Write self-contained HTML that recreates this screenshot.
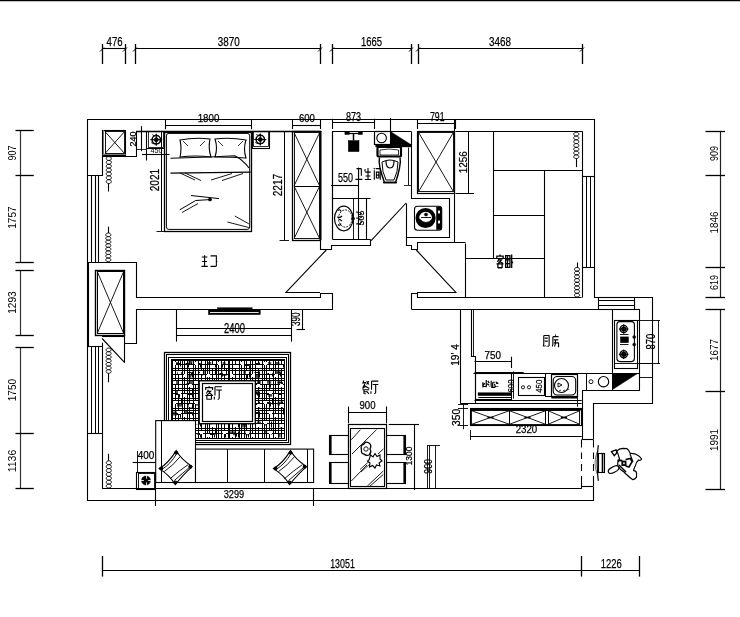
<!DOCTYPE html>
<html><head><meta charset="utf-8"><style>
html,body{margin:0;padding:0;background:#fff;width:740px;height:617px;overflow:hidden}
svg{display:block;will-change:transform}
text{font-family:"Liberation Sans",sans-serif;fill:#000}
</style></head><body>
<svg width="740" height="617" viewBox="0 0 740 617" fill="none" stroke="#000" stroke-width="1.1">
<line x1="0" y1="0.5" x2="740" y2="0.5" stroke-width="1.6"/>
<line x1="102.5" y1="48.5" x2="125.75" y2="48.5"/>
<line x1="135.75" y1="48.5" x2="320.75" y2="48.5"/>
<line x1="332.7" y1="48.5" x2="411.6" y2="48.5"/>
<line x1="418.2" y1="48.5" x2="582.5" y2="48.5"/>
<line x1="102.5" y1="44" x2="102.5" y2="64" stroke-width="1.3"/>
<line x1="100.0" y1="51.5" x2="104.0" y2="47.5" stroke-width="1.0"/>
<line x1="125.5" y1="44" x2="125.5" y2="64" stroke-width="1.3"/>
<line x1="123.0" y1="51.5" x2="127.0" y2="47.5" stroke-width="1.0"/>
<line x1="135.5" y1="44" x2="135.5" y2="64" stroke-width="1.3"/>
<line x1="133.0" y1="51.5" x2="137.0" y2="47.5" stroke-width="1.0"/>
<line x1="320.5" y1="44" x2="320.5" y2="64" stroke-width="1.3"/>
<line x1="318.0" y1="51.5" x2="322.0" y2="47.5" stroke-width="1.0"/>
<line x1="332.5" y1="44" x2="332.5" y2="64" stroke-width="1.3"/>
<line x1="330.0" y1="51.5" x2="334.0" y2="47.5" stroke-width="1.0"/>
<line x1="411.5" y1="44" x2="411.5" y2="64" stroke-width="1.3"/>
<line x1="409.0" y1="51.5" x2="413.0" y2="47.5" stroke-width="1.0"/>
<line x1="418.5" y1="44" x2="418.5" y2="64" stroke-width="1.3"/>
<line x1="416.0" y1="51.5" x2="420.0" y2="47.5" stroke-width="1.0"/>
<line x1="582.5" y1="44" x2="582.5" y2="64" stroke-width="1.3"/>
<line x1="580.0" y1="51.5" x2="584.0" y2="47.5" stroke-width="1.0"/>
<text x="114.6" y="45.85" text-anchor="middle" textLength="16" lengthAdjust="spacingAndGlyphs" font-size="13.13" stroke="#000" stroke-width="0.25">476</text>
<text x="228.75" y="45.80" text-anchor="middle" textLength="22" lengthAdjust="spacingAndGlyphs" font-size="12.99" stroke="#000" stroke-width="0.25">3870</text>
<text x="371.5" y="45.80" text-anchor="middle" textLength="21" lengthAdjust="spacingAndGlyphs" font-size="12.99" stroke="#000" stroke-width="0.25">1665</text>
<text x="500" y="45.80" text-anchor="middle" textLength="22" lengthAdjust="spacingAndGlyphs" font-size="12.99" stroke="#000" stroke-width="0.25">3468</text>
<line x1="20.5" y1="130" x2="20.5" y2="262" stroke-width="1.2" stroke="#333"/>
<line x1="20.5" y1="270.5" x2="20.5" y2="335" stroke-width="1.2" stroke="#333"/>
<line x1="20.5" y1="347.5" x2="20.5" y2="488.75" stroke-width="1.2" stroke="#333"/>
<line x1="15.5" y1="130.5" x2="33.75" y2="130.5" stroke-width="1.3"/>
<line x1="15.5" y1="175.5" x2="33.75" y2="175.5" stroke-width="1.3"/>
<line x1="15.5" y1="262.5" x2="33.75" y2="262.5" stroke-width="1.3"/>
<line x1="15.5" y1="270.5" x2="33.75" y2="270.5" stroke-width="1.3"/>
<line x1="15.5" y1="335.5" x2="33.75" y2="335.5" stroke-width="1.3"/>
<line x1="15.5" y1="347.5" x2="33.75" y2="347.5" stroke-width="1.3"/>
<line x1="15.5" y1="433.5" x2="33.75" y2="433.5" stroke-width="1.3"/>
<line x1="15.5" y1="488.5" x2="33.75" y2="488.5" stroke-width="1.3"/>
<text x="12.3" y="157.00" text-anchor="middle" textLength="15" lengthAdjust="spacingAndGlyphs" font-size="11.17" transform="rotate(-90 12.3 153)" stroke="none">907</text>
<text x="12.2" y="221.50" text-anchor="middle" textLength="22.5" lengthAdjust="spacingAndGlyphs" font-size="11.17" transform="rotate(-90 12.2 217.5)" stroke="none">1757</text>
<text x="12.2" y="306.50" text-anchor="middle" textLength="22.5" lengthAdjust="spacingAndGlyphs" font-size="11.17" transform="rotate(-90 12.2 302.5)" stroke="none">1293</text>
<text x="12.2" y="394.00" text-anchor="middle" textLength="22.5" lengthAdjust="spacingAndGlyphs" font-size="11.17" transform="rotate(-90 12.2 390)" stroke="none">1750</text>
<text x="12.2" y="465.00" text-anchor="middle" textLength="22.5" lengthAdjust="spacingAndGlyphs" font-size="11.17" transform="rotate(-90 12.2 461)" stroke="none">1136</text>
<line x1="720.5" y1="131.25" x2="720.5" y2="297" stroke-width="1.2" stroke="#222"/>
<line x1="720.5" y1="309.5" x2="720.5" y2="489.5" stroke-width="1.2" stroke="#222"/>
<line x1="705.5" y1="131.5" x2="725" y2="131.5" stroke-width="1.3"/>
<line x1="705.5" y1="175.5" x2="725" y2="175.5" stroke-width="1.3"/>
<line x1="705.5" y1="267.5" x2="725" y2="267.5" stroke-width="1.3"/>
<line x1="705.5" y1="297.5" x2="725" y2="297.5" stroke-width="1.3"/>
<line x1="705.5" y1="309.5" x2="725" y2="309.5" stroke-width="1.3"/>
<line x1="705.5" y1="391.5" x2="725" y2="391.5" stroke-width="1.3"/>
<line x1="705.5" y1="489.5" x2="725" y2="489.5" stroke-width="1.3"/>
<text x="713.8" y="157.60" text-anchor="middle" textLength="15" lengthAdjust="spacingAndGlyphs" font-size="11.17" transform="rotate(-90 713.8 153.6)" stroke="none">909</text>
<text x="713.8" y="226.40" text-anchor="middle" textLength="22" lengthAdjust="spacingAndGlyphs" font-size="11.17" transform="rotate(-90 713.8 222.4)" stroke="none">1846</text>
<text x="713.8" y="286.50" text-anchor="middle" textLength="15" lengthAdjust="spacingAndGlyphs" font-size="11.17" transform="rotate(-90 713.8 282.5)" stroke="none">619</text>
<text x="713.8" y="354.00" text-anchor="middle" textLength="22" lengthAdjust="spacingAndGlyphs" font-size="11.17" transform="rotate(-90 713.8 350)" stroke="none">1677</text>
<text x="713.8" y="444.00" text-anchor="middle" textLength="22" lengthAdjust="spacingAndGlyphs" font-size="11.17" transform="rotate(-90 713.8 440)" stroke="none">1991</text>
<line x1="102.7" y1="570.5" x2="639.2" y2="570.5"/>
<line x1="102.5" y1="556" x2="102.5" y2="576.6" stroke-width="1.3"/>
<line x1="581.5" y1="556" x2="581.5" y2="576.6" stroke-width="1.3"/>
<line x1="639.5" y1="556" x2="639.5" y2="576.6" stroke-width="1.3"/>
<text x="342.5" y="567.90" text-anchor="middle" textLength="24.7" lengthAdjust="spacingAndGlyphs" font-size="13.69" stroke="#000" stroke-width="0.25">13051</text>
<text x="611.3" y="567.90" text-anchor="middle" textLength="21" lengthAdjust="spacingAndGlyphs" font-size="13.69" stroke="#000" stroke-width="0.25">1226</text>
<line x1="155.5" y1="489" x2="155.5" y2="506" stroke-width="1.1"/>
<line x1="313.5" y1="489" x2="313.5" y2="506" stroke-width="1.1"/>
<text x="234" y="498.40" text-anchor="middle" textLength="20.5" lengthAdjust="spacingAndGlyphs" font-size="11.45" stroke="#000" stroke-width="0.25">3299</text>
<path d="M593.5,439.5 L593.5,403.5 L652.5,403.5 L652.5,297.5 L594.5,297.5 L594.5,119.5 L87.5,119.5 L87.5,500.5 L593.5,500.5 L593.5,486.5"/>
<line x1="88.5" y1="262" x2="88.5" y2="346"/>
<path d="M87.5,175.5 L102.5,175.5 L102.5,156.5 L136.5,156.5 L136.5,131.5 L321.5,131.5"/>
<line x1="136.1" y1="131.5" x2="321" y2="131.5" stroke-width="1.4"/>
<line x1="91.5" y1="175" x2="91.5" y2="262"/>
<line x1="95.5" y1="175" x2="95.5" y2="262"/>
<line x1="98.5" y1="175" x2="98.5" y2="262"/>
<rect x="102.5" y="130.5" width="23.0" height="25.0" stroke-width="1.1"/>
<line x1="103.5" y1="130" x2="103.5" y2="155.3" stroke-width="1" stroke="#777"/>
<line x1="102.7" y1="154.5" x2="125.7" y2="154.5" stroke-width="1" stroke="#777"/>
<rect x="105.5" y="131.5" width="19.0" height="22.0" stroke-width="0.9"/>
<line x1="105" y1="131.6" x2="124.6" y2="153.5" stroke-width="0.9"/>
<line x1="124.6" y1="131.6" x2="105" y2="153.5" stroke-width="0.9"/>
<line x1="141.5" y1="126.2" x2="141.5" y2="151.2"/>
<line x1="137" y1="131.5" x2="146" y2="131.5" stroke-width="0.8"/>
<line x1="137" y1="149.5" x2="146" y2="149.5" stroke-width="0.8"/>
<text x="132.5" y="142.00" text-anchor="middle" textLength="15" lengthAdjust="spacingAndGlyphs" font-size="8.38" transform="rotate(-90 132.5 139)" stroke="#000" stroke-width="0.25">240</text>
<line x1="142.1" y1="154.5" x2="169.5" y2="154.5"/>
<line x1="146.5" y1="148" x2="146.5" y2="160.5"/>
<rect x="146.5" y="131.5" width="18.0" height="17.0"/>
<rect x="148.5" y="131.5" width="15.0" height="16.0" stroke-width="0.8"/>
<rect x="252.5" y="131.5" width="17.0" height="17.0"/>
<rect x="253.5" y="131.5" width="15.0" height="15.0" stroke-width="0.8"/>
<circle cx="156.3" cy="139.7" r="4.2" stroke-width="1.5"/>
<circle cx="156.3" cy="139.7" r="2.0" stroke-width="0.8" fill="#000"/>
<line x1="150.3" y1="139.7" x2="162.3" y2="139.7" stroke-width="1.1"/>
<line x1="156.3" y1="133.7" x2="156.3" y2="145.7" stroke-width="1.1"/>
<path d="M152.3,134.7 q2,2 4,0 M151.3,142.7 q3,2 5,1 M158.3,143.7 q2,-1 3,-3" stroke-width="0.9"/>
<circle cx="260.3" cy="139.5" r="4.2" stroke-width="1.5"/>
<circle cx="260.3" cy="139.5" r="2.0" stroke-width="0.8" fill="#000"/>
<line x1="254.3" y1="139.5" x2="266.3" y2="139.5" stroke-width="1.1"/>
<line x1="260.3" y1="133.5" x2="260.3" y2="145.5" stroke-width="1.1"/>
<path d="M256.3,134.5 q2,2 4,0 M255.3,142.5 q3,2 5,1 M262.3,143.5 q2,-1 3,-3" stroke-width="0.9"/>
<text x="156.5" y="153.25" text-anchor="middle" textLength="12" lengthAdjust="spacingAndGlyphs" font-size="6.28" stroke="none">450</text>
<rect x="164.5" y="132.5" width="87.0" height="99.0" stroke-width="1.3"/>
<rect x="166.4" y="133.4" width="83.3" height="96" rx="2.5" stroke-width="1"/>
<line x1="161.5" y1="132" x2="161.5" y2="231.3" stroke-width="1"/>
<line x1="156.5" y1="231.5" x2="165" y2="231.5" stroke-width="0.9"/>
<text x="154.1" y="184.60" text-anchor="middle" textLength="22.5" lengthAdjust="spacingAndGlyphs" font-size="12.85" transform="rotate(-90 154.1 180)" stroke="#000" stroke-width="0.25">2021</text>
<path d="M180,140 Q195,137 210,139 Q208,148 211,157 Q195,155 180,157 Q182,148 180,140 Z" stroke-width="1.1"/>
<path d="M215,139 Q230,137 246,140 Q243,149 246,158 Q231,157 215,157 Q218,148 215,139 Z" stroke-width="1.1"/>
<line x1="183" y1="141" x2="188" y2="146" stroke-width="0.8"/>
<line x1="205" y1="141" x2="200" y2="146" stroke-width="0.8"/>
<line x1="218" y1="141" x2="223" y2="146" stroke-width="0.8"/>
<line x1="243" y1="141" x2="238" y2="146" stroke-width="0.8"/>
<path d="M170.5,158.2 L210,157 L234.8,155.8 Q243,160 249,168" stroke-width="1.1"/>
<line x1="170.5" y1="173.1" x2="250.7" y2="172.2" stroke-width="1.2"/>
<line x1="180" y1="173" x2="195" y2="180" stroke-width="0.9"/>
<line x1="185" y1="173" x2="201" y2="180.5" stroke-width="0.9"/>
<line x1="211" y1="180" x2="232" y2="173.5" stroke-width="0.9"/>
<line x1="222" y1="180.5" x2="243" y2="173.5" stroke-width="0.9"/>
<path d="M179.8,209.8 L195.7,200.5 L209.7,199.6" stroke-width="1"/>
<line x1="182" y1="212.5" x2="198" y2="203.5" stroke-width="0.9"/>
<line x1="191" y1="195.5" x2="219" y2="198.6" stroke-width="1"/>
<circle cx="210" cy="199.5" r="1.3" fill="#000"/>
<line x1="227.4" y1="222" x2="248.8" y2="227.5" stroke-width="0.9"/>
<line x1="234.8" y1="216" x2="248.8" y2="223.8" stroke-width="0.9"/>
<line x1="165.75" y1="125.5" x2="251" y2="125.5"/>
<line x1="165.5" y1="120" x2="165.5" y2="129.3"/>
<line x1="251.5" y1="120" x2="251.5" y2="129.3"/>
<text x="208.5" y="121.60" text-anchor="middle" textLength="21.7" lengthAdjust="spacingAndGlyphs" font-size="11.17" stroke="#000" stroke-width="0.25">1800</text>
<line x1="284.5" y1="131" x2="284.5" y2="240" stroke-width="1"/>
<line x1="279.5" y1="240.5" x2="289" y2="240.5" stroke-width="0.9"/>
<text x="277.5" y="189.50" text-anchor="middle" textLength="22.5" lengthAdjust="spacingAndGlyphs" font-size="12.57" transform="rotate(-90 277.5 185)" stroke="#000" stroke-width="0.25">2217</text>
<rect x="292.5" y="131.5" width="28.0" height="109.0" stroke-width="1.3"/>
<line x1="320.5" y1="131" x2="320.5" y2="240" stroke-width="1.8"/>
<rect x="294.5" y="132.5" width="25.0" height="106.0" stroke-width="0.9"/>
<line x1="294" y1="186.5" x2="319.7" y2="186.5" stroke-width="1"/>
<line x1="294" y1="132.5" x2="319.7" y2="186" stroke-width="0.9"/>
<line x1="319.7" y1="132.5" x2="294" y2="186" stroke-width="0.9"/>
<line x1="294" y1="186" x2="319.7" y2="238.7" stroke-width="0.9"/>
<line x1="319.7" y1="186" x2="294" y2="238.7" stroke-width="0.9"/>
<line x1="292.7" y1="125.5" x2="320.8" y2="125.5"/>
<line x1="292.5" y1="120" x2="292.5" y2="129"/>
<line x1="320.5" y1="120" x2="320.5" y2="129"/>
<text x="306.9" y="121.60" text-anchor="middle" textLength="16" lengthAdjust="spacingAndGlyphs" font-size="11.17" stroke="#000" stroke-width="0.25">600</text>
<line x1="108.5" y1="183.5" x2="108.5" y2="191.5" stroke-width="1.1"/>
<path d="M108.8,156.6 C112.2,156.6 112.2,160.44285714285715 108.8,160.44285714285715 C105.39999999999999,160.44285714285715 105.39999999999999,156.6 108.8,156.6  M108.8,160.44285714285715 C112.2,160.44285714285715 112.2,164.28571428571428 108.8,164.28571428571428 C105.39999999999999,164.28571428571428 105.39999999999999,160.44285714285715 108.8,160.44285714285715  M108.8,164.28571428571428 C112.2,164.28571428571428 112.2,168.12857142857143 108.8,168.12857142857143 C105.39999999999999,168.12857142857143 105.39999999999999,164.28571428571428 108.8,164.28571428571428  M108.8,168.12857142857143 C112.2,168.12857142857143 112.2,171.97142857142856 108.8,171.97142857142856 C105.39999999999999,171.97142857142856 105.39999999999999,168.12857142857143 108.8,168.12857142857143  M108.8,171.97142857142856 C112.2,171.97142857142856 112.2,175.81428571428572 108.8,175.81428571428572 C105.39999999999999,175.81428571428572 105.39999999999999,171.97142857142856 108.8,171.97142857142856  M108.8,175.81428571428572 C112.2,175.81428571428572 112.2,179.65714285714284 108.8,179.65714285714284 C105.39999999999999,179.65714285714284 105.39999999999999,175.81428571428572 108.8,175.81428571428572  M108.8,179.65714285714284 C112.2,179.65714285714284 112.2,183.5 108.8,183.5 C105.39999999999999,183.5 105.39999999999999,179.65714285714284 108.8,179.65714285714284  M108.8,183.5" stroke-width="0.9"/>
<line x1="108.5" y1="226.6" x2="108.5" y2="233.0" stroke-width="1.1"/>
<path d="M108.3,233.0 C111.7,233.0 111.7,236.575 108.3,236.575 C104.89999999999999,236.575 104.89999999999999,233.0 108.3,233.0  M108.3,236.575 C111.7,236.575 111.7,240.15 108.3,240.15 C104.89999999999999,240.15 104.89999999999999,236.575 108.3,236.575  M108.3,240.15 C111.7,240.15 111.7,243.72500000000002 108.3,243.72500000000002 C104.89999999999999,243.72500000000002 104.89999999999999,240.15 108.3,240.15  M108.3,243.72500000000002 C111.7,243.72500000000002 111.7,247.3 108.3,247.3 C104.89999999999999,247.3 104.89999999999999,243.72500000000002 108.3,243.72500000000002  M108.3,247.3 C111.7,247.3 111.7,250.875 108.3,250.875 C104.89999999999999,250.875 104.89999999999999,247.3 108.3,247.3  M108.3,250.875 C111.7,250.875 111.7,254.45000000000002 108.3,254.45000000000002 C104.89999999999999,254.45000000000002 104.89999999999999,250.875 108.3,250.875  M108.3,254.45000000000002 C111.7,254.45000000000002 111.7,258.02500000000003 108.3,258.02500000000003 C104.89999999999999,258.02500000000003 104.89999999999999,254.45000000000002 108.3,254.45000000000002  M108.3,258.02500000000003 C111.7,258.02500000000003 111.7,261.6 108.3,261.6 C104.89999999999999,261.6 104.89999999999999,258.02500000000003 108.3,258.02500000000003  M108.3,261.6" stroke-width="0.9"/>
<line x1="108.5" y1="373.3" x2="108.5" y2="382.2" stroke-width="1.1"/>
<path d="M108.6,348.1 C112.0,348.1 112.0,351.70000000000005 108.6,351.70000000000005 C105.19999999999999,351.70000000000005 105.19999999999999,348.1 108.6,348.1  M108.6,351.70000000000005 C112.0,351.70000000000005 112.0,355.3 108.6,355.3 C105.19999999999999,355.3 105.19999999999999,351.70000000000005 108.6,351.70000000000005  M108.6,355.3 C112.0,355.3 112.0,358.90000000000003 108.6,358.90000000000003 C105.19999999999999,358.90000000000003 105.19999999999999,355.3 108.6,355.3  M108.6,358.90000000000003 C112.0,358.90000000000003 112.0,362.5 108.6,362.5 C105.19999999999999,362.5 105.19999999999999,358.90000000000003 108.6,358.90000000000003  M108.6,362.5 C112.0,362.5 112.0,366.1 108.6,366.1 C105.19999999999999,366.1 105.19999999999999,362.5 108.6,362.5  M108.6,366.1 C112.0,366.1 112.0,369.7 108.6,369.7 C105.19999999999999,369.7 105.19999999999999,366.1 108.6,366.1  M108.6,369.7 C112.0,369.7 112.0,373.3 108.6,373.3 C105.19999999999999,373.3 105.19999999999999,369.7 108.6,369.7  M108.6,373.3" stroke-width="0.9"/>
<line x1="108.5" y1="453.8" x2="108.5" y2="460.8" stroke-width="1.1"/>
<path d="M108.8,460.8 C112.2,460.8 112.2,464.6857142857143 108.8,464.6857142857143 C105.39999999999999,464.6857142857143 105.39999999999999,460.8 108.8,460.8  M108.8,464.6857142857143 C112.2,464.6857142857143 112.2,468.57142857142856 108.8,468.57142857142856 C105.39999999999999,468.57142857142856 105.39999999999999,464.6857142857143 108.8,464.6857142857143  M108.8,468.57142857142856 C112.2,468.57142857142856 112.2,472.45714285714286 108.8,472.45714285714286 C105.39999999999999,472.45714285714286 105.39999999999999,468.57142857142856 108.8,468.57142857142856  M108.8,472.45714285714286 C112.2,472.45714285714286 112.2,476.34285714285716 108.8,476.34285714285716 C105.39999999999999,476.34285714285716 105.39999999999999,472.45714285714286 108.8,472.45714285714286  M108.8,476.34285714285716 C112.2,476.34285714285716 112.2,480.22857142857146 108.8,480.22857142857146 C105.39999999999999,480.22857142857146 105.39999999999999,476.34285714285716 108.8,476.34285714285716  M108.8,480.22857142857146 C112.2,480.22857142857146 112.2,484.1142857142857 108.8,484.1142857142857 C105.39999999999999,484.1142857142857 105.39999999999999,480.22857142857146 108.8,480.22857142857146  M108.8,484.1142857142857 C112.2,484.1142857142857 112.2,488.0 108.8,488.0 C105.39999999999999,488.0 105.39999999999999,484.1142857142857 108.8,484.1142857142857  M108.8,488.0" stroke-width="0.9"/>
<line x1="576.5" y1="158.6" x2="576.5" y2="167.1" stroke-width="1.1"/>
<path d="M576.3,132.3 C579.6999999999999,132.3 579.6999999999999,136.05714285714288 576.3,136.05714285714288 C572.9,136.05714285714288 572.9,132.3 576.3,132.3  M576.3,136.05714285714288 C579.6999999999999,136.05714285714288 579.6999999999999,139.81428571428572 576.3,139.81428571428572 C572.9,139.81428571428572 572.9,136.05714285714288 576.3,136.05714285714288  M576.3,139.81428571428572 C579.6999999999999,139.81428571428572 579.6999999999999,143.57142857142858 576.3,143.57142857142858 C572.9,143.57142857142858 572.9,139.81428571428572 576.3,139.81428571428572  M576.3,143.57142857142858 C579.6999999999999,143.57142857142858 579.6999999999999,147.32857142857142 576.3,147.32857142857142 C572.9,147.32857142857142 572.9,143.57142857142858 576.3,143.57142857142858  M576.3,147.32857142857142 C579.6999999999999,147.32857142857142 579.6999999999999,151.0857142857143 576.3,151.0857142857143 C572.9,151.0857142857143 572.9,147.32857142857142 576.3,147.32857142857142  M576.3,151.0857142857143 C579.6999999999999,151.0857142857143 579.6999999999999,154.84285714285716 576.3,154.84285714285716 C572.9,154.84285714285716 572.9,151.0857142857143 576.3,151.0857142857143  M576.3,154.84285714285716 C579.6999999999999,154.84285714285716 579.6999999999999,158.6 576.3,158.6 C572.9,158.6 572.9,154.84285714285716 576.3,154.84285714285716  M576.3,158.6" stroke-width="0.9"/>
<line x1="577.5" y1="262.5" x2="577.5" y2="267.5" stroke-width="1.1"/>
<path d="M577,267.5 C580.4,267.5 580.4,271.1875 577,271.1875 C573.6,271.1875 573.6,267.5 577,267.5  M577,271.1875 C580.4,271.1875 580.4,274.875 577,274.875 C573.6,274.875 573.6,271.1875 577,271.1875  M577,274.875 C580.4,274.875 580.4,278.5625 577,278.5625 C573.6,278.5625 573.6,274.875 577,274.875  M577,278.5625 C580.4,278.5625 580.4,282.25 577,282.25 C573.6,282.25 573.6,278.5625 577,278.5625  M577,282.25 C580.4,282.25 580.4,285.9375 577,285.9375 C573.6,285.9375 573.6,282.25 577,282.25  M577,285.9375 C580.4,285.9375 580.4,289.625 577,289.625 C573.6,289.625 573.6,285.9375 577,285.9375  M577,289.625 C580.4,289.625 580.4,293.3125 577,293.3125 C573.6,293.3125 573.6,289.625 577,289.625  M577,293.3125 C580.4,293.3125 580.4,297.0 577,297.0 C573.6,297.0 573.6,293.3125 577,293.3125  M577,297.0" stroke-width="0.9"/>
<path d="M320.5,131.5 L320.5,249.5 L331.5,249.5 L331.5,245.5 L370.5,245.5 L370.5,239.5"/>
<line x1="332.5" y1="131" x2="332.5" y2="239.3" stroke-width="1.2"/>
<line x1="332.4" y1="131.5" x2="411.3" y2="131.5" stroke-width="1.2"/>
<line x1="332.5" y1="122.5" x2="374.8" y2="122.5"/>
<line x1="332.5" y1="118.7" x2="332.5" y2="129"/>
<line x1="374.5" y1="118.7" x2="374.5" y2="129"/>
<text x="353.6" y="120.75" text-anchor="middle" textLength="15" lengthAdjust="spacingAndGlyphs" font-size="11.87" stroke="#000" stroke-width="0.25">873</text>
<line x1="390.5" y1="118" x2="390.5" y2="145"/>
<rect x="348.3" y="140.6" width="10.699999999999989" height="11.0" stroke-width="0.5" fill="#000"/>
<rect x="344.9" y="131.6" width="4.400000000000034" height="2.9000000000000057" stroke-width="0.5" fill="#000"/>
<rect x="358.5" y="131.6" width="3.8999999999999773" height="2.9000000000000057" stroke-width="0.5" fill="#000"/>
<line x1="345" y1="133.5" x2="362" y2="133.5" stroke-width="1.2"/>
<line x1="353.5" y1="134" x2="353.5" y2="140.6" stroke-width="1.5"/>
<rect x="374.5" y="131.5" width="17.0" height="13.0" stroke-width="1.2"/>
<circle cx="381.6" cy="138" r="4.8" stroke-width="1.1"/>
<path d="M391.1,131.9 L411.2,144.8 L391.1,144.8 Z" stroke-width="0.5" fill="#000"/>
<rect x="376" y="144.6" width="35" height="2.0" fill="#000"/>
<rect x="377.5" y="147" width="23.5" height="9.5" rx="1" stroke-width="2.2"/>
<path d="M380,150 Q389,148 398.5,150 L398.5,155 L380,155 Z" stroke-width="0.8"/>
<path d="M379.5,157.5 Q378.5,162 380,168 Q382,176 384.5,182.5 L395.5,182.5 Q398,176 399.5,168 Q401,162 400,157.5" stroke-width="1.4"/>
<path d="M382,162 Q390,158 398,162 Q398,172 394,180 L386,180 Q382,172 382,162 Z" stroke-width="1"/>
<path d="M386,161 Q386,168 390,168 Q394,168 394,161" stroke-width="1.2"/>
<line x1="383" y1="182.5" x2="397" y2="182.5" stroke-width="1.6"/>
<line x1="408.5" y1="147.6" x2="408.5" y2="185.3" stroke-width="0.9"/>
<line x1="404" y1="185.5" x2="412" y2="185.5" stroke-width="0.8"/>
<text x="345.6" y="181.50" text-anchor="middle" textLength="15" lengthAdjust="spacingAndGlyphs" font-size="12.29" stroke="#000" stroke-width="0.25">550</text>
<line x1="331" y1="185.5" x2="358" y2="185.5"/>
<line x1="358.5" y1="167.6" x2="358.5" y2="239.3"/>
<line x1="332.4" y1="198.5" x2="370.5" y2="198.5" stroke-width="1.1"/>
<line x1="366.5" y1="198.4" x2="366.5" y2="239.3" stroke-width="1.1"/>
<line x1="332.4" y1="239.5" x2="370.5" y2="239.5" stroke-width="1.1"/>
<line x1="353.5" y1="198.4" x2="353.5" y2="239.3" stroke-width="0.9"/>
<ellipse cx="343.8" cy="218.5" rx="9.3" ry="12.3" stroke-width="1.2"/>
<ellipse cx="345.3" cy="218.5" rx="6.8" ry="8.6" stroke-width="0.9" stroke-dasharray="2,1"/>
<path d="M338,210.5 q2,-2 3,1 M337,217 q3,1 5,-1 M339,219 l3,2 M338,224.5 q2,2 3,-1" stroke-width="1.1"/>
<circle cx="353" cy="218.5" r="1.3" fill="#000"/>
<path d="M356,212 q4,0 6,2 M356,218 q4,1 6,-1 M356,224 q4,0 6,-2" stroke-width="1"/>
<text x="360" y="221.50" text-anchor="middle" textLength="15" lengthAdjust="spacingAndGlyphs" font-size="9.78" transform="rotate(-90 360 218)" stroke="#000" stroke-width="0.25">505</text>
<line x1="371.1" y1="240.7" x2="406.1" y2="203" stroke-width="1.1"/>
<path d="M406.5,203.5 L406.5,245.5 L411.5,245.5 L411.5,249.5 L417.5,249.5 L417.5,242.5 L465.5,242.5"/>
<path d="M411.5,131.5 L411.5,198.5 L449.5,198.5 L449.5,237.5 L406.5,237.5"/>
<rect x="414.5" y="206.2" width="27.2" height="24.1" rx="3" stroke-width="1.1"/>
<circle cx="425.6" cy="218" r="8.2" stroke-width="3.8"/>
<path d="M419.5,219 Q426,226 432.5,219 L432,222 Q426,228 420,222 Z" fill="#000" stroke-width="0.8"/>
<circle cx="426" cy="214.5" r="1.6" stroke-width="0.5" fill="#000"/>
<line x1="421" y1="217.5" x2="431" y2="217.5" stroke-width="0.9"/>
<rect x="436.5" y="207" width="5.0" height="22.5" stroke-width="0.5" fill="#000"/>
<rect x="437.5" y="210" width="3.0" height="4" fill="#fff"/>
<rect x="437.5" y="220" width="3.0" height="4" fill="#fff"/>
<rect x="417.5" y="131.5" width="37.0" height="62.0" stroke-width="1.2"/>
<rect x="418.5" y="132.5" width="35.0" height="59.0" stroke-width="0.9"/>
<line x1="418.8" y1="132.8" x2="453.2" y2="191.3" stroke-width="0.9"/>
<line x1="453.2" y1="132.8" x2="418.8" y2="191.3" stroke-width="0.9"/>
<line x1="454.5" y1="119.5" x2="454.5" y2="242.8" stroke-width="1.1"/>
<line x1="417" y1="123.5" x2="455" y2="123.5"/>
<line x1="417.5" y1="119.5" x2="417.5" y2="129"/>
<line x1="455.5" y1="119.5" x2="455.5" y2="129"/>
<text x="437.25" y="121.28" text-anchor="middle" textLength="14.5" lengthAdjust="spacingAndGlyphs" font-size="12.22" stroke="#000" stroke-width="0.25">791</text>
<line x1="465.5" y1="243.5" x2="465.5" y2="297.6" stroke-width="1.1"/>
<line x1="493.5" y1="131.3" x2="493.5" y2="258.3" stroke-width="1.1"/>
<line x1="493.8" y1="170.5" x2="582.5" y2="170.5" stroke-width="1.1"/>
<line x1="544.5" y1="170.75" x2="544.5" y2="297.6" stroke-width="1.1"/>
<line x1="493.8" y1="215.5" x2="544.4" y2="215.5" stroke-width="1.1"/>
<line x1="465.4" y1="258.5" x2="544.4" y2="258.5" stroke-width="1.1"/>
<line x1="455.5" y1="131.5" x2="582.5" y2="131.5" stroke-width="1.1"/>
<line x1="582.5" y1="131.3" x2="582.5" y2="297.6" stroke-width="1.1"/>
<line x1="586.5" y1="176.3" x2="586.5" y2="267.4" stroke-width="1"/>
<line x1="590.5" y1="176.3" x2="590.5" y2="267.4" stroke-width="1"/>
<line x1="582.5" y1="176.5" x2="594.5" y2="176.5"/>
<line x1="582.5" y1="267.5" x2="594.5" y2="267.5"/>
<line x1="468.5" y1="131.3" x2="468.5" y2="193.2" stroke-width="1"/>
<line x1="455.5" y1="193.5" x2="474" y2="193.5" stroke-width="1"/>
<text x="462.9" y="166.38" text-anchor="middle" textLength="22" lengthAdjust="spacingAndGlyphs" font-size="11.52" transform="rotate(-90 462.9 162.25)" stroke="#000" stroke-width="0.25">1256</text>
<path d="M87.5,262.5 L136.5,262.5 L136.5,297.5 L320.5,297.5 L320.5,293.5 L332.5,293.5 L332.5,309.5 L136.5,309.5 L136.5,343.5 L124.5,343.5"/>
<line x1="285.5" y1="292.5" x2="320" y2="292.5" stroke-width="1.1"/>
<line x1="326.25" y1="250" x2="285.5" y2="292.8" stroke-width="1.1"/>
<path d="M411.5,309.5 L411.5,293.5 L417.5,293.5 L417.5,297.5 L581.5,297.5"/>
<line x1="411.75" y1="309.5" x2="598.9" y2="309.5" stroke-width="1.1"/>
<line x1="417" y1="292.5" x2="456.3" y2="292.5" stroke-width="1.1"/>
<line x1="416.25" y1="250" x2="456.3" y2="292.8" stroke-width="1.1"/>
<rect x="95.5" y="270.5" width="29.0" height="65.0" stroke-width="1.4"/>
<rect x="97.5" y="271.5" width="26.0" height="62.0" stroke-width="1"/>
<line x1="97.3" y1="271.7" x2="123.6" y2="333.2" stroke-width="0.9"/>
<line x1="123.6" y1="271.7" x2="97.3" y2="333.2" stroke-width="0.9"/>
<line x1="124.5" y1="335" x2="124.5" y2="362.7" stroke-width="1.1"/>
<line x1="102.1" y1="338.5" x2="124.7" y2="362.7" stroke-width="1.1"/>
<line x1="102.1" y1="336.5" x2="124.7" y2="336.5" stroke-width="1.1"/>
<line x1="102.5" y1="342.7" x2="102.5" y2="488.75" stroke-width="1.1"/>
<line x1="91.5" y1="346.9" x2="91.5" y2="433.25" stroke-width="1"/>
<line x1="95.5" y1="346.9" x2="95.5" y2="433.25" stroke-width="1"/>
<line x1="98.5" y1="346.9" x2="98.5" y2="433.25" stroke-width="1"/>
<line x1="87.5" y1="346.5" x2="102.3" y2="346.5"/>
<line x1="87.5" y1="433.5" x2="102.3" y2="433.5"/>
<line x1="102.3" y1="488.5" x2="581.25" y2="488.5" stroke-width="1.1"/>
<text x="234.5" y="333.40" text-anchor="middle" textLength="21" lengthAdjust="spacingAndGlyphs" font-size="13.97" stroke="#000" stroke-width="0.25">2400</text>
<line x1="176.5" y1="328.5" x2="291.6" y2="328.5"/>
<line x1="176.5" y1="335.5" x2="291.6" y2="335.5"/>
<line x1="176.5" y1="309" x2="176.5" y2="341.6"/>
<line x1="291.5" y1="309" x2="291.5" y2="341.6"/>
<rect x="208.5" y="309.5" width="51.69999999999999" height="5.0" stroke-width="0.6" fill="#000"/>
<rect x="217.6" y="307.7" width="34.5" height="2.3000000000000114" stroke-width="0.4" fill="#000"/>
<line x1="210" y1="312.5" x2="258.7" y2="312.5" stroke-width="0.9" stroke="#fff"/>
<line x1="302.5" y1="309" x2="302.5" y2="329.4"/>
<line x1="296.5" y1="329.5" x2="305" y2="329.5"/>
<text x="295.5" y="323.55" text-anchor="middle" textLength="13.4" lengthAdjust="spacingAndGlyphs" font-size="11.87" transform="rotate(-90 295.5 319.3)" stroke="#000" stroke-width="0.25">390</text>
<g><rect x="173.0" y="362.0" width="5" height="3" fill="#555" stroke="none"/><rect x="188.4" y="361.0" width="4" height="3" fill="#555" stroke="none"/><rect x="207.2" y="362.0" width="4" height="3" fill="#555" stroke="none"/><rect x="222.6" y="362.0" width="3" height="3" fill="#555" stroke="none"/><rect x="268.2" y="362.0" width="3" height="3" fill="#555" stroke="none"/><rect x="275.6" y="362.0" width="4" height="3" fill="#555" stroke="none"/><rect x="177.0" y="371.9" width="5" height="3" fill="#555" stroke="none"/><rect x="188.4" y="373.9" width="3" height="4" fill="#555" stroke="none"/><rect x="199.8" y="370.9" width="5" height="3" fill="#555" stroke="none"/><rect x="222.6" y="371.9" width="4" height="4" fill="#555" stroke="none"/><rect x="243.4" y="370.9" width="3" height="3" fill="#555" stroke="none"/><rect x="254.8" y="373.9" width="4" height="4" fill="#555" stroke="none"/><rect x="275.6" y="370.9" width="5" height="4" fill="#555" stroke="none"/><rect x="175.0" y="380.8" width="4" height="4" fill="#555" stroke="none"/><rect x="188.4" y="380.8" width="5" height="4" fill="#555" stroke="none"/><rect x="197.8" y="383.8" width="4" height="4" fill="#555" stroke="none"/><rect x="207.2" y="381.8" width="4" height="3" fill="#555" stroke="none"/><rect x="222.6" y="381.8" width="5" height="4" fill="#555" stroke="none"/><rect x="232.0" y="383.8" width="4" height="3" fill="#555" stroke="none"/><rect x="256.8" y="380.8" width="4" height="3" fill="#555" stroke="none"/><rect x="266.2" y="380.8" width="5" height="3" fill="#555" stroke="none"/><rect x="277.6" y="380.8" width="3" height="4" fill="#555" stroke="none"/><rect x="175.0" y="390.7" width="4" height="4" fill="#555" stroke="none"/><rect x="218.6" y="390.7" width="3" height="3" fill="#555" stroke="none"/><rect x="234.0" y="390.7" width="3" height="4" fill="#555" stroke="none"/><rect x="254.8" y="390.7" width="3" height="4" fill="#555" stroke="none"/><rect x="268.2" y="393.7" width="4" height="3" fill="#555" stroke="none"/><rect x="177.0" y="403.6" width="5" height="3" fill="#555" stroke="none"/><rect x="188.4" y="403.6" width="4" height="4" fill="#555" stroke="none"/><rect x="195.8" y="401.6" width="5" height="4" fill="#555" stroke="none"/><rect x="207.2" y="400.6" width="4" height="3" fill="#555" stroke="none"/><rect x="222.6" y="400.6" width="3" height="3" fill="#555" stroke="none"/><rect x="243.4" y="403.6" width="3" height="3" fill="#555" stroke="none"/><rect x="277.6" y="401.6" width="5" height="4" fill="#555" stroke="none"/><rect x="173.0" y="411.5" width="4" height="4" fill="#555" stroke="none"/><rect x="184.4" y="410.5" width="3" height="4" fill="#555" stroke="none"/><rect x="211.2" y="410.5" width="5" height="3" fill="#555" stroke="none"/><rect x="222.6" y="411.5" width="3" height="3" fill="#555" stroke="none"/><rect x="245.4" y="410.5" width="5" height="4" fill="#555" stroke="none"/><rect x="252.8" y="411.5" width="3" height="4" fill="#555" stroke="none"/><rect x="195.8" y="421.4" width="5" height="3" fill="#555" stroke="none"/><rect x="209.2" y="421.4" width="5" height="3" fill="#555" stroke="none"/><rect x="241.4" y="423.4" width="5" height="4" fill="#555" stroke="none"/><rect x="256.8" y="421.4" width="4" height="3" fill="#555" stroke="none"/><rect x="264.2" y="421.4" width="3" height="4" fill="#555" stroke="none"/><rect x="279.6" y="423.4" width="3" height="4" fill="#555" stroke="none"/><rect x="188.4" y="430.3" width="5" height="3" fill="#555" stroke="none"/><rect x="230.0" y="431.3" width="5" height="4" fill="#555" stroke="none"/><rect x="245.4" y="431.3" width="4" height="4" fill="#555" stroke="none"/><rect x="264.2" y="430.3" width="3" height="3" fill="#555" stroke="none"/><rect x="277.6" y="433.3" width="3" height="4" fill="#555" stroke="none"/><path d="M171,359.5 H285 M171,360.5 H285 M171,364.5 H285 M171,368.5 H285 M171,370.5 H285 M171,374.5 H285 M171,378.5 H285 M171,380.5 H285 M171,384.5 H285 M171,388.5 H285 M171,390.5 H285 M171,393.5 H285 M171,398.5 H285 M171,400.5 H285 M171,403.5 H285 M171,408.5 H285 M171,410.5 H285 M171,413.5 H285 M171,418.5 H285 M171,420.5 H285 M171,423.5 H285 M171,428.5 H285 M171,430.5 H285 M171,433.5 H285 M171.5,359 V438 M172.5,359 V438 M175.5,359 V438 M178.5,359 V438 M182.5,359 V438 M184.5,359 V438 M187.5,359 V438 M189.5,359 V438 M193.5,359 V438 M195.5,359 V438 M198.5,359 V438 M201.5,359 V438 M205.5,359 V438 M207.5,359 V438 M209.5,359 V438 M212.5,359 V438 M216.5,359 V438 M218.5,359 V438 M221.5,359 V438 M224.5,359 V438 M228.5,359 V438 M229.5,359 V438 M232.5,359 V438 M235.5,359 V438 M239.5,359 V438 M241.5,359 V438 M244.5,359 V438 M246.5,359 V438 M250.5,359 V438 M252.5,359 V438 M255.5,359 V438 M258.5,359 V438 M262.5,359 V438 M264.5,359 V438 M266.5,359 V438 M269.5,359 V438 M273.5,359 V438 M275.5,359 V438 M278.5,359 V438 M281.5,359 V438 M175.5,363.5 H180.5 V366.5 M180.5,359.5 V365.5 M185.5,363.5 H188.5 V367.5 M191.5,362.5 V368.5 M197.5,363.5 H200.5 V367.5 M210.5,364.5 H215.5 V367.5 M219.5,364.5 H222.5 V367.5 M231.5,364.5 H236.5 V367.5 M244.5,365.5 H249.5 V369.5 M255.5,363.5 H258.5 V366.5 M259.5,362.5 V368.5 M265.5,364.5 H269.5 V367.5 M278.5,364.5 H283.5 V367.5 M187.5,372.5 H191.5 V375.5 M192.5,371.5 V377.5 M198.5,372.5 H202.5 V375.5 M203.5,368.5 V374.5 M215.5,368.5 V374.5 M219.5,373.5 H222.5 V376.5 M226.5,368.5 V374.5 M243.5,374.5 H247.5 V378.5 M249.5,371.5 V377.5 M254.5,372.5 H258.5 V376.5 M259.5,371.5 V377.5 M267.5,373.5 H272.5 V376.5 M271.5,368.5 V374.5 M277.5,372.5 H280.5 V376.5 M186.5,383.5 H189.5 V387.5 M196.5,384.5 H199.5 V388.5 M208.5,384.5 H211.5 V388.5 M214.5,378.5 V384.5 M219.5,383.5 H222.5 V387.5 M232.5,384.5 H235.5 V387.5 M242.5,382.5 H246.5 V385.5 M249.5,381.5 V387.5 M253.5,383.5 H257.5 V386.5 M259.5,381.5 V387.5 M265.5,384.5 H270.5 V387.5 M277.5,382.5 H282.5 V386.5 M175.5,394.5 H179.5 V397.5 M187.5,394.5 H192.5 V397.5 M192.5,388.5 V394.5 M203.5,391.5 V397.5 M208.5,394.5 H212.5 V398.5 M219.5,393.5 H222.5 V396.5 M225.5,391.5 V397.5 M232.5,394.5 H236.5 V397.5 M238.5,388.5 V394.5 M242.5,393.5 H246.5 V396.5 M248.5,388.5 V394.5 M253.5,392.5 H257.5 V395.5 M259.5,391.5 V397.5 M266.5,394.5 H269.5 V397.5 M276.5,394.5 H281.5 V398.5 M181.5,398.5 V404.5 M187.5,404.5 H192.5 V408.5 M202.5,398.5 V404.5 M208.5,402.5 H213.5 V406.5 M220.5,404.5 H223.5 V407.5 M232.5,403.5 H235.5 V407.5 M255.5,404.5 H258.5 V408.5 M259.5,401.5 V407.5 M265.5,402.5 H270.5 V406.5 M272.5,398.5 V404.5 M278.5,403.5 H281.5 V406.5 M282.5,401.5 V407.5 M176.5,414.5 H180.5 V417.5 M180.5,411.5 V417.5 M187.5,412.5 H192.5 V415.5 M198.5,413.5 H202.5 V417.5 M202.5,408.5 V414.5 M208.5,413.5 H211.5 V417.5 M215.5,411.5 V417.5 M219.5,412.5 H224.5 V415.5 M226.5,411.5 V417.5 M233.5,414.5 H237.5 V417.5 M243.5,413.5 H246.5 V416.5 M249.5,411.5 V417.5 M255.5,412.5 H259.5 V416.5 M259.5,411.5 V417.5 M266.5,413.5 H269.5 V416.5 M283.5,408.5 V414.5 M176.5,422.5 H180.5 V426.5 M191.5,421.5 V427.5 M196.5,422.5 H200.5 V426.5 M209.5,423.5 H212.5 V427.5 M238.5,421.5 V427.5 M242.5,424.5 H246.5 V428.5 M248.5,418.5 V424.5 M254.5,423.5 H258.5 V427.5 M271.5,421.5 V427.5 M278.5,423.5 H281.5 V426.5 M176.5,433.5 H181.5 V436.5 M181.5,431.5 V437.5 M187.5,432.5 H190.5 V435.5 M191.5,431.5 V437.5 M197.5,434.5 H200.5 V437.5 M209.5,434.5 H214.5 V437.5 M215.5,428.5 V434.5 M221.5,433.5 H224.5 V436.5 M225.5,431.5 V437.5 M232.5,433.5 H236.5 V436.5 M238.5,431.5 V437.5 M248.5,431.5 V437.5 M266.5,433.5 H269.5 V436.5 M271.5,428.5 V434.5 " stroke="#000" stroke-width="1"/><rect x="173" y="362" width="3" height="3" fill="#fff" stroke="none"/><rect x="189" y="365" width="3" height="3" fill="#fff" stroke="none"/><rect x="195" y="362" width="3" height="3" fill="#fff" stroke="none"/><rect x="212" y="365" width="3" height="3" fill="#fff" stroke="none"/><rect x="218" y="362" width="3" height="3" fill="#fff" stroke="none"/><rect x="235" y="365" width="3" height="3" fill="#fff" stroke="none"/><rect x="241" y="362" width="3" height="3" fill="#fff" stroke="none"/><rect x="257" y="365" width="3" height="3" fill="#fff" stroke="none"/><rect x="264" y="362" width="3" height="3" fill="#fff" stroke="none"/><rect x="280" y="365" width="3" height="3" fill="#fff" stroke="none"/><rect x="178" y="371" width="3" height="3" fill="#fff" stroke="none"/><rect x="184" y="374" width="3" height="3" fill="#fff" stroke="none"/><rect x="200" y="371" width="3" height="3" fill="#fff" stroke="none"/><rect x="207" y="374" width="3" height="3" fill="#fff" stroke="none"/><rect x="223" y="371" width="3" height="3" fill="#fff" stroke="none"/><rect x="230" y="374" width="3" height="3" fill="#fff" stroke="none"/><rect x="246" y="371" width="3" height="3" fill="#fff" stroke="none"/><rect x="252" y="374" width="3" height="3" fill="#fff" stroke="none"/><rect x="269" y="371" width="3" height="3" fill="#fff" stroke="none"/><rect x="275" y="374" width="3" height="3" fill="#fff" stroke="none"/><rect x="173" y="381" width="3" height="3" fill="#fff" stroke="none"/><rect x="189" y="384" width="3" height="3" fill="#fff" stroke="none"/><rect x="195" y="381" width="3" height="3" fill="#fff" stroke="none"/><rect x="212" y="384" width="3" height="3" fill="#fff" stroke="none"/><rect x="218" y="381" width="3" height="3" fill="#fff" stroke="none"/><rect x="235" y="384" width="3" height="3" fill="#fff" stroke="none"/><rect x="241" y="381" width="3" height="3" fill="#fff" stroke="none"/><rect x="257" y="384" width="3" height="3" fill="#fff" stroke="none"/><rect x="264" y="381" width="3" height="3" fill="#fff" stroke="none"/><rect x="280" y="384" width="3" height="3" fill="#fff" stroke="none"/><rect x="178" y="391" width="3" height="3" fill="#fff" stroke="none"/><rect x="184" y="394" width="3" height="3" fill="#fff" stroke="none"/><rect x="200" y="391" width="3" height="3" fill="#fff" stroke="none"/><rect x="207" y="394" width="3" height="3" fill="#fff" stroke="none"/><rect x="223" y="391" width="3" height="3" fill="#fff" stroke="none"/><rect x="230" y="394" width="3" height="3" fill="#fff" stroke="none"/><rect x="246" y="391" width="3" height="3" fill="#fff" stroke="none"/><rect x="252" y="394" width="3" height="3" fill="#fff" stroke="none"/><rect x="269" y="391" width="3" height="3" fill="#fff" stroke="none"/><rect x="275" y="394" width="3" height="3" fill="#fff" stroke="none"/><rect x="173" y="401" width="3" height="3" fill="#fff" stroke="none"/><rect x="189" y="404" width="3" height="3" fill="#fff" stroke="none"/><rect x="195" y="401" width="3" height="3" fill="#fff" stroke="none"/><rect x="212" y="404" width="3" height="3" fill="#fff" stroke="none"/><rect x="218" y="401" width="3" height="3" fill="#fff" stroke="none"/><rect x="235" y="404" width="3" height="3" fill="#fff" stroke="none"/><rect x="241" y="401" width="3" height="3" fill="#fff" stroke="none"/><rect x="257" y="404" width="3" height="3" fill="#fff" stroke="none"/><rect x="264" y="401" width="3" height="3" fill="#fff" stroke="none"/><rect x="280" y="404" width="3" height="3" fill="#fff" stroke="none"/><rect x="178" y="411" width="3" height="3" fill="#fff" stroke="none"/><rect x="184" y="414" width="3" height="3" fill="#fff" stroke="none"/><rect x="200" y="411" width="3" height="3" fill="#fff" stroke="none"/><rect x="207" y="414" width="3" height="3" fill="#fff" stroke="none"/><rect x="223" y="411" width="3" height="3" fill="#fff" stroke="none"/><rect x="230" y="414" width="3" height="3" fill="#fff" stroke="none"/><rect x="246" y="411" width="3" height="3" fill="#fff" stroke="none"/><rect x="252" y="414" width="3" height="3" fill="#fff" stroke="none"/><rect x="269" y="411" width="3" height="3" fill="#fff" stroke="none"/><rect x="275" y="414" width="3" height="3" fill="#fff" stroke="none"/><rect x="173" y="421" width="3" height="3" fill="#fff" stroke="none"/><rect x="189" y="424" width="3" height="3" fill="#fff" stroke="none"/><rect x="195" y="421" width="3" height="3" fill="#fff" stroke="none"/><rect x="212" y="424" width="3" height="3" fill="#fff" stroke="none"/><rect x="218" y="421" width="3" height="3" fill="#fff" stroke="none"/><rect x="235" y="424" width="3" height="3" fill="#fff" stroke="none"/><rect x="241" y="421" width="3" height="3" fill="#fff" stroke="none"/><rect x="257" y="424" width="3" height="3" fill="#fff" stroke="none"/><rect x="264" y="421" width="3" height="3" fill="#fff" stroke="none"/><rect x="280" y="424" width="3" height="3" fill="#fff" stroke="none"/><rect x="178" y="431" width="3" height="3" fill="#fff" stroke="none"/><rect x="184" y="434" width="3" height="3" fill="#fff" stroke="none"/><rect x="200" y="431" width="3" height="3" fill="#fff" stroke="none"/><rect x="207" y="434" width="3" height="3" fill="#fff" stroke="none"/><rect x="223" y="431" width="3" height="3" fill="#fff" stroke="none"/><rect x="230" y="434" width="3" height="3" fill="#fff" stroke="none"/><rect x="246" y="431" width="3" height="3" fill="#fff" stroke="none"/><rect x="252" y="434" width="3" height="3" fill="#fff" stroke="none"/><rect x="269" y="431" width="3" height="3" fill="#fff" stroke="none"/><rect x="275" y="434" width="3" height="3" fill="#fff" stroke="none"/></g>
<rect x="171.5" y="359.5" width="113.0" height="79.0" stroke-width="1"/>
<rect x="164.5" y="352.5" width="126.0" height="92.0" stroke-width="1.3"/>
<rect x="166.5" y="354.5" width="122.0" height="88.0" stroke-width="1"/>
<rect x="168.5" y="357.5" width="118.0" height="83.0" stroke-width="1"/>
<rect x="199.2" y="380.8" width="56.10000000000002" height="42.89999999999998" stroke-width="1.3" fill="#fff"/>
<rect x="202.5" y="383.5" width="50.0" height="38.0" stroke-width="1.2"/>
<rect x="155.7" y="420.6" width="39.80000000000001" height="61.89999999999998" stroke-width="1.1" fill="#fff"/>
<line x1="161.5" y1="420.6" x2="161.5" y2="482.5" stroke-width="1"/>
<rect x="195.5" y="449.1" width="118.10000000000002" height="33.39999999999998" stroke-width="1.1" fill="#fff"/>
<line x1="161.3" y1="482.5" x2="307.1" y2="482.5" stroke-width="1.1"/>
<line x1="307.5" y1="449.1" x2="307.5" y2="482.5" stroke-width="1"/>
<line x1="227.5" y1="449.1" x2="227.5" y2="482.5" stroke-width="1"/>
<line x1="264.5" y1="449.1" x2="264.5" y2="482.5" stroke-width="1"/>
<path d="M159.2,468.6 Q168.2,463.6 176.2,450.6 Q181.2,459.6 192.2,466.6 Q184.2,473.6 175.2,484.6 Q170.2,475.6 159.2,468.6 Z" fill="#fff" stroke-width="1.1"/>
<path d="M162.2,469.1 Q170.2,464.6 176.7,453.6 M164.2,471.6 Q173.2,465.6 180.2,456.6 M170.2,478.6 Q179.2,470.6 188.2,464.6 M174.2,480.6 L189.2,467.6" stroke-width="0.9"/>
<circle cx="161.23999999999998" cy="468.48" r="1.4" fill="#000"/>
<circle cx="176.2" cy="452.64000000000004" r="1.4" fill="#000"/>
<circle cx="190.28" cy="466.72" r="1.4" fill="#000"/>
<circle cx="175.32" cy="482.56" r="1.4" fill="#000"/>
<path d="M273.5,468.6 Q282.5,463.6 290.5,450.6 Q295.5,459.6 306.5,466.6 Q298.5,473.6 289.5,484.6 Q284.5,475.6 273.5,468.6 Z" fill="#fff" stroke-width="1.1"/>
<path d="M276.5,469.1 Q284.5,464.6 291.0,453.6 M278.5,471.6 Q287.5,465.6 294.5,456.6 M284.5,478.6 Q293.5,470.6 302.5,464.6 M288.5,480.6 L303.5,467.6" stroke-width="0.9"/>
<circle cx="275.54" cy="468.48" r="1.4" fill="#000"/>
<circle cx="290.5" cy="452.64000000000004" r="1.4" fill="#000"/>
<circle cx="304.58" cy="466.72" r="1.4" fill="#000"/>
<circle cx="289.62" cy="482.56" r="1.4" fill="#000"/>
<rect x="136.5" y="472.5" width="19.0" height="17.0" stroke-width="1.1"/>
<rect x="138.5" y="473.5" width="16.0" height="15.0" stroke-width="0.9"/>
<circle cx="146" cy="480.5" r="4.5" stroke-width="0.5" fill="#000"/>
<line x1="140" y1="480.5" x2="152" y2="480.5" stroke-width="0.8" stroke="#fff"/>
<line x1="146.5" y1="475" x2="146.5" y2="486" stroke-width="0.8" stroke="#fff"/>
<circle cx="146" cy="480.5" r="1.5" fill="#000"/>
<text x="146" y="458.60" text-anchor="middle" textLength="16.7" lengthAdjust="spacingAndGlyphs" font-size="10.61" stroke="#000" stroke-width="0.25">400</text>
<line x1="132.6" y1="462.5" x2="155.7" y2="462.5"/>
<line x1="137.5" y1="451" x2="137.5" y2="472" stroke-width="0.9"/>
<text x="367.5" y="409.30" text-anchor="middle" textLength="16" lengthAdjust="spacingAndGlyphs" font-size="10.89" stroke="#000" stroke-width="0.25">900</text>
<line x1="348.6" y1="412.5" x2="386.8" y2="412.5"/>
<line x1="348.5" y1="406.5" x2="348.5" y2="423.3"/>
<line x1="386.5" y1="406.5" x2="386.5" y2="423.3"/>
<rect x="348.5" y="424.5" width="38.0" height="64.0" stroke-width="1.2"/>
<rect x="350.5" y="428.5" width="34.0" height="58.0" stroke-width="1.1"/>
<line x1="351.3" y1="439.7" x2="360.5" y2="429.6" stroke-width="0.9"/>
<line x1="352" y1="454" x2="376.6" y2="429.6" stroke-width="0.9"/>
<line x1="351.3" y1="481" x2="367" y2="465" stroke-width="0.9"/>
<line x1="378" y1="454" x2="383.3" y2="449" stroke-width="0.9"/>
<line x1="360" y1="469.5" x2="369" y2="461.5" stroke-width="0.8"/>
<line x1="361" y1="472" x2="370" y2="464" stroke-width="0.8"/>
<line x1="367.3" y1="486.1" x2="383.3" y2="471" stroke-width="0.9"/>
<line x1="370" y1="486.1" x2="383.3" y2="474.5" stroke-width="0.9"/>
<path d="M369,460 L370.5,455 L373,457 L375,453.5 L377,456.5 L380,455 L380,459 L382,461 L379,463 L380,466 L376.5,465 L375,468 L372.5,465.5 L369.5,467 L370,463 L367.5,461 Z" fill="#fff" stroke-width="1.1"/>
<path d="M361.5,450 Q360,445 364,444 Q365,441 369,443 Q372,445 370,449 Q372,452 369,455 Q366,456 364,454 Q361,454 361.5,450 Z" fill="#fff" stroke-width="1.3"/>
<circle cx="366" cy="449" r="2.2" stroke-width="0.9"/>
<rect x="329.5" y="435.5" width="19.0" height="19.0" stroke-width="1.1"/>
<line x1="330.5" y1="435.4" x2="330.5" y2="454.7" stroke-width="2.2"/>
<rect x="386.5" y="435.5" width="19.0" height="19.0" stroke-width="1.1"/>
<line x1="404.5" y1="435.4" x2="404.5" y2="454.7" stroke-width="2.2"/>
<rect x="329.5" y="462.5" width="19.0" height="21.0" stroke-width="1.1"/>
<line x1="330.5" y1="462.9" x2="330.5" y2="483.1" stroke-width="2.2"/>
<rect x="386.5" y="462.5" width="19.0" height="21.0" stroke-width="1.1"/>
<line x1="404.5" y1="462.9" x2="404.5" y2="483.1" stroke-width="2.2"/>
<line x1="414.5" y1="424.1" x2="414.5" y2="490.1"/>
<line x1="388.7" y1="424.5" x2="419" y2="424.5"/>
<text x="408.5" y="459.50" text-anchor="middle" textLength="18.7" lengthAdjust="spacingAndGlyphs" font-size="9.78" transform="rotate(-90 408.5 456)" stroke="#000" stroke-width="0.25">1300</text>
<line x1="427.5" y1="445.8" x2="427.5" y2="488.6" stroke-width="0.9"/>
<line x1="429.5" y1="445.8" x2="429.5" y2="488.6" stroke-width="0.9"/>
<line x1="435.5" y1="445" x2="435.5" y2="488.6" stroke-width="0.9"/>
<line x1="427" y1="445.5" x2="440" y2="445.5" stroke-width="0.9"/>
<text x="427.7" y="470.40" text-anchor="middle" textLength="14.8" lengthAdjust="spacingAndGlyphs" font-size="11.17" transform="rotate(-90 427.7 466.4)" stroke="#000" stroke-width="0.25">900</text>
<line x1="460.5" y1="309.2" x2="460.5" y2="403.2" stroke-width="1.1"/>
<path d="M471.5,309.5 L471.5,356.5 L475.5,356.5 L475.5,403.5" stroke-width="1.1"/>
<line x1="473.5" y1="309.2" x2="473.5" y2="356" stroke-width="0.9"/>
<text x="455.6" y="358.85" text-anchor="middle" textLength="21.6" lengthAdjust="spacingAndGlyphs" font-size="10.75" transform="rotate(-90 455.6 355)" stroke="#000" stroke-width="0.25">19' 4</text>
<text x="492.75" y="358.50" text-anchor="middle" textLength="16.5" lengthAdjust="spacingAndGlyphs" font-size="10.47" stroke="#000" stroke-width="0.25">750</text>
<line x1="474.5" y1="361.5" x2="511.2" y2="361.5"/>
<line x1="511.5" y1="356.7" x2="511.5" y2="368"/>
<line x1="474.5" y1="372.5" x2="523.7" y2="372.5"/>
<rect x="475.5" y="373.5" width="36.0" height="26.0" stroke-width="1.1"/>
<rect x="478.4" y="393" width="32.80000000000001" height="2.1999999999999886" fill="#000"/>
<line x1="478.4" y1="397.5" x2="511.2" y2="397.5" stroke-width="1"/>
<text x="511" y="389.25" text-anchor="middle" textLength="13" lengthAdjust="spacingAndGlyphs" font-size="9.08" transform="rotate(-90 511 386)" stroke="#000" stroke-width="0.25">600</text>
<line x1="513.5" y1="371.4" x2="513.5" y2="398.7" stroke-width="0.9"/>
<rect x="518.5" y="377.5" width="26.0" height="18.0" stroke-width="1.1"/>
<circle cx="523" cy="387.3" r="1.6" stroke-width="0.9"/>
<circle cx="529" cy="387.3" r="1.6" stroke-width="0.9"/>
<text x="538.9" y="389.70" text-anchor="middle" textLength="13" lengthAdjust="spacingAndGlyphs" font-size="9.78" transform="rotate(-90 538.9 386.2)" stroke="#000" stroke-width="0.25">450</text>
<rect x="545.5" y="373.5" width="6.0" height="23.0" stroke-width="1"/>
<rect x="551.5" y="374.5" width="26.0" height="22.0" stroke-width="1.2"/>
<rect x="553.2" y="376.5" width="22.5" height="18.5" rx="4" stroke-width="1.1"/>
<circle cx="561.5" cy="385.5" r="7" stroke-width="1.1"/>
<path d="M558,383 L562,385 L558,387 Z" stroke-width="0.9"/>
<path d="M559,391 l2,-1 M563,391 l2,-1 M567,390 l2,-1" stroke-width="0.8"/>
<line x1="460.2" y1="403.5" x2="581.7" y2="403.5" stroke-width="1.1"/>
<line x1="593" y1="403.5" x2="652.3" y2="403.5" stroke-width="1.1"/>
<line x1="474.5" y1="400.5" x2="581.7" y2="400.5" stroke-width="1.0"/>
<line x1="551.3" y1="397.5" x2="577.4" y2="397.5" stroke-width="2"/>
<line x1="577.5" y1="373.7" x2="577.5" y2="406.8" stroke-width="0.9"/>
<rect x="470.5" y="408.5" width="111.0" height="17.0" stroke-width="1.1"/>
<line x1="470.4" y1="409.5" x2="581" y2="409.5" stroke-width="1.8"/>
<rect x="471.5" y="410.5" width="108.0" height="14.0" stroke-width="0.9"/>
<line x1="471.6" y1="410.7" x2="509.4" y2="424.3" stroke-width="0.9"/>
<line x1="471.6" y1="424.3" x2="509.4" y2="410.7" stroke-width="0.9"/>
<line x1="487.5" y1="417.5" x2="493.5" y2="417.5" stroke-width="1.6"/>
<line x1="509.4" y1="410.7" x2="545.5" y2="424.3" stroke-width="0.9"/>
<line x1="509.4" y1="424.3" x2="545.5" y2="410.7" stroke-width="0.9"/>
<line x1="524.45" y1="417.5" x2="530.45" y2="417.5" stroke-width="1.6"/>
<line x1="548" y1="410.7" x2="579.8" y2="424.3" stroke-width="0.9"/>
<line x1="548" y1="424.3" x2="579.8" y2="410.7" stroke-width="0.9"/>
<line x1="560.9" y1="417.5" x2="566.9" y2="417.5" stroke-width="1.6"/>
<line x1="509.5" y1="410.7" x2="509.5" y2="424.3" stroke-width="1"/>
<line x1="545.5" y1="410.7" x2="545.5" y2="424.3" stroke-width="1"/>
<line x1="548.5" y1="410.7" x2="548.5" y2="424.3" stroke-width="1"/>
<line x1="463.5" y1="404.3" x2="463.5" y2="429.3" stroke-width="0.9"/>
<line x1="458" y1="404.5" x2="468" y2="404.5" stroke-width="0.9"/>
<line x1="458" y1="408.5" x2="468" y2="408.5" stroke-width="0.9"/>
<line x1="458" y1="425.5" x2="468" y2="425.5" stroke-width="0.9"/>
<text x="455.9" y="421.00" text-anchor="middle" textLength="17" lengthAdjust="spacingAndGlyphs" font-size="10.06" transform="rotate(-90 455.9 417.4)" stroke="#000" stroke-width="0.25">350</text>
<text x="526.5" y="433.45" text-anchor="middle" textLength="21.5" lengthAdjust="spacingAndGlyphs" font-size="10.47" stroke="#000" stroke-width="0.25">2320</text>
<line x1="470.4" y1="436.5" x2="581.7" y2="436.5"/>
<line x1="470.5" y1="430" x2="470.5" y2="440" stroke-width="0.9"/>
<line x1="612.5" y1="309.2" x2="612.5" y2="373.7" stroke-width="1.1"/>
<rect x="614.5" y="320.5" width="23.0" height="48.0" stroke-width="1.1"/>
<rect x="616.9" y="321.6" width="17.5" height="40" rx="3" stroke-width="1.1"/>
<circle cx="623.7" cy="329" r="3.6" stroke-width="1.3"/>
<circle cx="623.7" cy="329" r="1.8" stroke-width="1.6"/>
<line x1="618.9" y1="329" x2="628.5000000000001" y2="329" stroke-width="1.1"/>
<line x1="623.7" y1="324.2" x2="623.7" y2="333.8" stroke-width="1.1"/>
<line x1="621.1800000000001" y1="326.48" x2="626.22" y2="331.52" stroke-width="0.6"/>
<line x1="626.22" y1="326.48" x2="621.1800000000001" y2="331.52" stroke-width="0.6"/>
<circle cx="623.7" cy="354.3" r="3.6" stroke-width="1.3"/>
<circle cx="623.7" cy="354.3" r="1.8" stroke-width="1.6"/>
<line x1="618.9" y1="354.3" x2="628.5000000000001" y2="354.3" stroke-width="1.1"/>
<line x1="623.7" y1="349.5" x2="623.7" y2="359.1" stroke-width="1.1"/>
<line x1="621.1800000000001" y1="351.78000000000003" x2="626.22" y2="356.82" stroke-width="0.6"/>
<line x1="626.22" y1="351.78000000000003" x2="621.1800000000001" y2="356.82" stroke-width="0.6"/>
<rect x="620.5" y="336.9" width="8.0" height="5.800000000000011" stroke-width="0.5" fill="#000"/>
<line x1="620" y1="334.5" x2="628.5" y2="334.5" stroke-width="0.9"/>
<line x1="620" y1="344.5" x2="628.5" y2="344.5" stroke-width="0.9"/>
<circle cx="634.2" cy="337" r="1.5" stroke-width="0.5" fill="#000"/>
<circle cx="634.2" cy="344.5" r="1.5" stroke-width="0.5" fill="#000"/>
<line x1="614.9" y1="363.5" x2="652.3" y2="363.5" stroke-width="0.9"/>
<line x1="637.5" y1="320.5" x2="660" y2="320.5" stroke-width="0.9"/>
<line x1="637.5" y1="363.5" x2="660" y2="363.5" stroke-width="0.9"/>
<line x1="658.5" y1="320" x2="658.5" y2="363.5" stroke-width="0.9"/>
<text x="651" y="345.85" text-anchor="middle" textLength="15.8" lengthAdjust="spacingAndGlyphs" font-size="11.87" transform="rotate(-90 651 341.6)" stroke="#000" stroke-width="0.25">870</text>
<line x1="639.5" y1="309.2" x2="639.5" y2="390.7" stroke-width="1.1"/>
<line x1="634.1" y1="309.5" x2="639.8" y2="309.5" stroke-width="1.1"/>
<rect x="586.5" y="373.5" width="26.0" height="17.0" stroke-width="1"/>
<circle cx="591" cy="381.7" r="2" stroke-width="0.9"/>
<circle cx="603.5" cy="381.7" r="5.2" stroke-width="1.1"/>
<path d="M612.5,373.5 L637.5,373.5 L612.5,389.5 Z" stroke-width="0.5" fill="#000"/>
<line x1="473.4" y1="373.5" x2="639.8" y2="373.5" stroke-width="1.1"/>
<line x1="582" y1="390.5" x2="639.8" y2="390.5" stroke-width="1.1"/>
<line x1="582.5" y1="390.7" x2="582.5" y2="439.7" stroke-width="1.1"/>
<line x1="639.8" y1="377.5" x2="652.3" y2="377.5" stroke-width="0.9"/>
<rect x="598.5" y="297.5" width="36.0" height="12.0" stroke-width="1.1"/>
<line x1="598.8" y1="300.5" x2="634.5" y2="300.5" stroke-width="1.1"/>
<line x1="598.8" y1="305.5" x2="634.5" y2="305.5" stroke-width="1.1"/>
<line x1="581.5" y1="439.7" x2="581.5" y2="447.5" stroke-width="1.1"/>
<line x1="581.5" y1="452.5" x2="581.5" y2="459" stroke-width="1.1"/>
<line x1="581.5" y1="464" x2="581.5" y2="471" stroke-width="1.1"/>
<line x1="581.5" y1="476" x2="581.5" y2="486" stroke-width="1.1"/>
<line x1="593.5" y1="439.7" x2="593.5" y2="447.5" stroke-width="1.1"/>
<line x1="593.5" y1="452.5" x2="593.5" y2="459" stroke-width="1.1"/>
<line x1="593.5" y1="464" x2="593.5" y2="471" stroke-width="1.1"/>
<line x1="593.5" y1="476" x2="593.5" y2="486" stroke-width="1.1"/>
<line x1="581.7" y1="439.5" x2="593.3" y2="439.5" stroke-width="1.1"/>
<line x1="581.7" y1="486.5" x2="593.3" y2="486.5" stroke-width="1.1"/>
<line x1="581.5" y1="486" x2="581.5" y2="488.75" stroke-width="1.1"/>
<path d="M598.3,445.1 Q596,463 598.3,480.8" stroke-width="1.2"/>
<path d="M597,452 Q593,463 597,474" stroke-width="0.8" stroke="#555"/>
<rect x="598.5" y="453.5" width="6.0" height="19.0" stroke-width="1.1"/>
<line x1="602.5" y1="453.5" x2="602.5" y2="472.1" stroke-width="1.6"/>
<path d="M616.9,450.9 Q619,448.6 622.7,448.4 L627.1,448.7 Q629,450 630,453.1 Q633,453.5 635.8,454.2 Q640,456 641.6,459 Q640.5,461 638.7,460 Q636,462 635.5,465.5 Q634,468 633.6,470.6 Q636.5,471 636.5,472.8 L636.5,477.2 Q635,479.5 632.9,479.7 Q629,477 627.1,475 Q625,473.5 624.2,472.1 Q620,470 618,466 Q617,462 619.5,459 Q618.5,455 616.9,450.9 Z" fill="#fff" stroke-width="1.2"/>
<path d="M611.4,451.7 L616.1,449.8 L616.9,452.8 L614.3,455.7 Z" stroke-width="1.3"/>
<ellipse cx="613.6" cy="469.6" rx="5.8" ry="2.8" transform="rotate(-28 613.6 469.6)" fill="#fff" stroke-width="1.2"/>
<rect x="622.3" y="461.5" width="3.300000000000068" height="3.6000000000000227" stroke-width="1.8"/>
<path d="M617.5,460.5 L622.3,460.5" stroke-width="1.8"/>
<path d="M625.6,459.5 L630.5,458.5 L632,462 L629,467 L625.6,466" stroke-width="1.6"/>
<line x1="619" y1="465" x2="626" y2="472" stroke-width="1.4"/>
<line x1="630" y1="454" x2="633" y2="462" stroke-width="1.2"/>
<path d="M1,1.5 H9 M1.5,5.5 H8.5 M0.5,9.8 H9.5 M5,0 V9.8" transform="translate(201.1 255.3) scale(0.7 1.1300000000000001)" stroke-width="1.1" vector-effect="non-scaling-stroke"/>
<path d="M0.5,0.5 H8 M0.5,9.8 H8 M8.8,0 V10 M9.5,5.5 L10,6" transform="translate(210.2 255.3) scale(0.7 1.1300000000000001)" stroke-width="1.1" vector-effect="non-scaling-stroke"/>
<path d="M1.5,0.5 H8.5 M4.5,0.5 V10 M8.5,0.5 V6.5 M0,9.6 H10" transform="translate(355.4 168) scale(0.7 1.1800000000000002)" stroke-width="1.1" vector-effect="non-scaling-stroke"/>
<path d="M1,1 L0.5,3 M1,3.5 H9 M1.5,6.8 H8.5 M0.5,9.8 H9.5 M5,0 V9.8" transform="translate(364.5 168) scale(0.7 1.1800000000000002)" stroke-width="1.1" vector-effect="non-scaling-stroke"/>
<path d="M0.5,0 L1.5,1 M1,2 V10 M3,0.5 H9.5 V10 M4,3.5 H7.5 V8.5 H4 Z M4,6 H7.5" transform="translate(373.59999999999997 168) scale(0.7 1.1800000000000002)" stroke-width="1.1" vector-effect="non-scaling-stroke"/>
<path d="M5,0 V1 M0.5,3 V1.2 H9.5 V3 M4,2.8 L1.5,5.5 M3,4 H7 L2,7 M4.5,5 L9,6.5 M0,7 H10 M2,7 V10 M8,7 V10 M2,9.8 H8" transform="translate(496.5 254.5) scale(0.7 1.35)" stroke-width="1.3" vector-effect="non-scaling-stroke"/>
<path d="M0.3,0.8 H6.5 V9.6 H0.3 Z M0.3,4 H6.5 M0.3,6.8 H6.5 M3,0.8 V9.6 M9,0 V10 M9.8,5.3 L10.3,6.5" transform="translate(505.4 254.5) scale(0.7 1.35)" stroke-width="1.3" vector-effect="non-scaling-stroke"/>
<path d="M1,0.8 H9.5 M1,0.8 V8 L0.2,10 M9,0.8 V9.5 M2.5,3 H7 M2.5,5.5 H7 M2,10 L3.5,9 M5.5,9.5 L6.5,10 M7.5,9.5 L8.5,10" transform="translate(543.1 334.5) scale(0.67 1.2)" stroke-width="1.1" vector-effect="non-scaling-stroke"/>
<path d="M5,0 V1 M1,1.8 H9.5 M1,1.8 V8 L0.2,10 M2.5,4.5 H9 M2.5,7 H10 M5,4.5 Q5,8 3.5,10 M9.5,7 V10 L8.5,9.5" transform="translate(552.2 334.5) scale(0.67 1.2)" stroke-width="1.1" vector-effect="non-scaling-stroke"/>
<path d="M5,0 V1 M0.5,3 V1.2 H9.5 V3 M4,2.8 L1.5,5.5 M3,4 H7 L2,7 M4.5,5 L9,6.5 M0,7 H10 M2,7 V10 M8,7 V10 M2,9.8 H8" transform="translate(205.3 386) scale(0.77 1.35)" stroke-width="1.1" vector-effect="non-scaling-stroke"/>
<path d="M1,0.5 H10 M1,0.5 V7 M0.2,8 V10 M2.5,3 H10 M6.5,3 V9 Q6,10 4.5,10" transform="translate(214.20000000000002 386) scale(0.77 1.35)" stroke-width="1.1" vector-effect="non-scaling-stroke"/>
<path d="M2,0 L1,2.5 M1.5,1.5 H4.5 L1,5.5 M3,3.5 L5,5 M6,0.5 L9,3 M9,0.5 L6,3 M0.5,6 L4,4.5 M5,4.5 L9.5,6 M0.5,7 H9.5 M2.5,7 V10 M2.5,8.5 H6 M6,8 L9,10 M3,10 H5" transform="translate(362.1 380.5) scale(0.75 1.33)" stroke-width="1.1" vector-effect="non-scaling-stroke"/>
<path d="M1,0.5 H10 M1,0.5 V7 M0.2,8 V10 M2.5,3 H10 M6.5,3 V9 Q6,10 4.5,10" transform="translate(370.8 380.5) scale(0.75 1.33)" stroke-width="1.1" vector-effect="non-scaling-stroke"/>
<path d="M0.5,3 V10 M1,8.5 H5 M1,7 L3,4 M5,0 V9.5 M7,1 L9,4 M6,5 L9,7 M9,8.5 L9.3,9" transform="translate(482.5 380.1) scale(0.75 0.75)" stroke-width="1.2" vector-effect="non-scaling-stroke"/>
<path d="M0.5,1 V9 M0.5,9.8 H6 M2.5,3 V9 M4,2 L4.5,4 M5,5 L6,9 M7,2 L8,5 M6.5,8 L7.5,9 M9,3 L9.5,5 M9,8 L9.5,9" transform="translate(490.8 380.1) scale(0.75 0.75)" stroke-width="1.2" vector-effect="non-scaling-stroke"/>
</svg></body></html>
